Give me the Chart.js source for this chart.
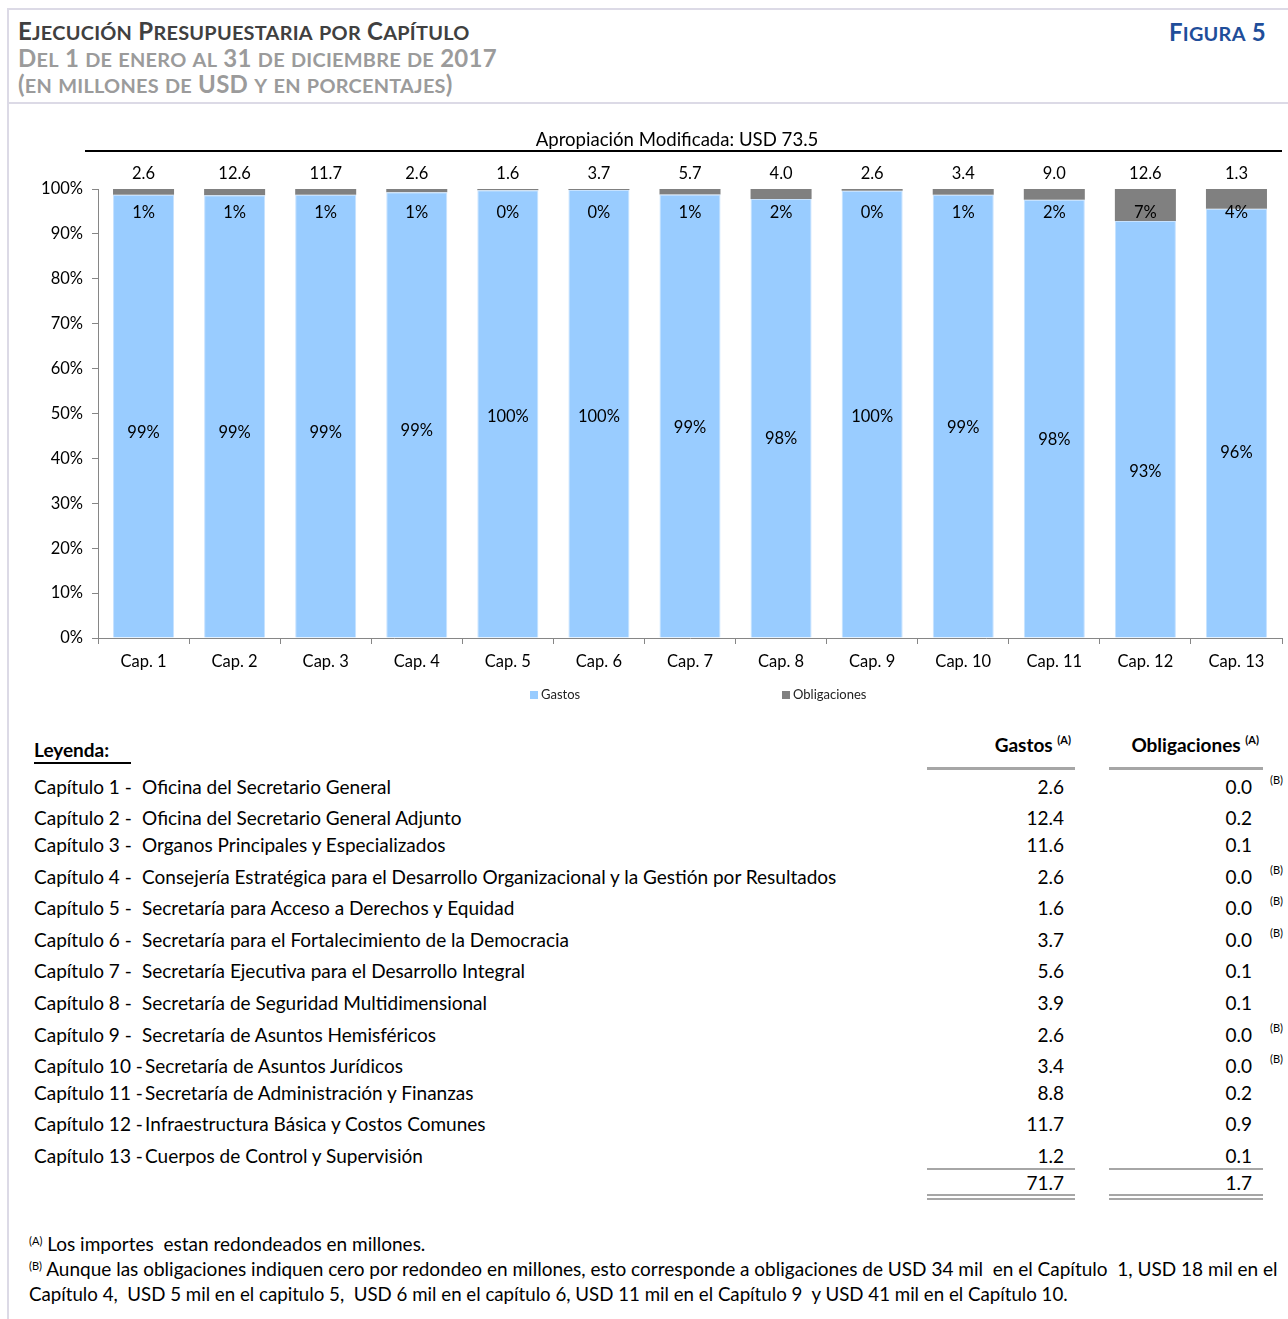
<!DOCTYPE html>
<html lang="es">
<head>
<meta charset="utf-8">
<title>Ejecución Presupuestaria por Capítulo</title>
<script src="https://cdn.jsdelivr.net/npm/chart.js@4.4.1/dist/chart.umd.min.js"></script>
<style>
  html, body { margin: 0; padding: 0; background: #fff; }
  body { width: 1288px; height: 1319px; position: relative; overflow: hidden; font-family: Lato, "Open Sans", sans-serif; color: #000; }
  .abs { position: absolute; white-space: nowrap; }
  .hline { position: absolute; }
  .hdr { font-weight: bold; line-height: 26px; letter-spacing: 0.25px; }
  .hdr .b { font-size: 24px; }
  .hdr .s { font-size: 19.9px; }
  sup { font-size: 11px; vertical-align: 0; position: relative; top: -8px; }
  .row { position: absolute; height: 24px; line-height: 24px; font-size: 19px; white-space: nowrap; }
  #chartCanvas { position: absolute; left: 0; top: 120px; }
  .leg { position: absolute; font-size: 13px; line-height: 14px; color: #222; }
  .leg i { display: inline-block; width: 8px; height: 8px; margin-right: 3px; vertical-align: 0px; }
  .foot { font-size: 19px; line-height: 24px; }
</style>
</head>
<body>
<!-- frame -->
<div class="hline" style="left:8px; top:8px; width:1280px; height:2px; background:#dcdae6;"></div>
<div class="hline" style="left:8px; top:102px; width:1280px; height:2px; background:#dcdae6;"></div>
<div class="hline" style="left:7px; top:8px; width:2px; height:1311px; background:#dcdae6;"></div>

<div id="h1" class="abs hdr" style="left:18px; top:18px; color:#404040;"></div>
<div id="h2" class="abs hdr" style="left:18px; top:45px; color:#9b9b9b;"></div>
<div id="h3" class="abs hdr" style="left:18px; top:71px; color:#9b9b9b;"></div>
<div id="h4" class="abs hdr" style="right:22px; top:19px; color:#1f4e9a;"></div>

<canvas id="chartCanvas" width="1288" height="590"></canvas>

<div class="leg" style="left:530px; top:687px;"><i id="legG"></i>Gastos</div>
<div class="leg" style="left:782px; top:687px;"><i id="legO"></i>Obligaciones</div>

<div id="table"></div>

<script>
// ---------------- DATA ----------------
const categories = ["Cap. 1","Cap. 2","Cap. 3","Cap. 4","Cap. 5","Cap. 6","Cap. 7","Cap. 8","Cap. 9","Cap. 10","Cap. 11","Cap. 12","Cap. 13"];
const apropiacion = [2.6, 12.6, 11.7, 2.6, 1.6, 3.7, 5.7, 4.0, 2.6, 3.4, 9.0, 12.6, 1.3];
const gastosPct = [98.7, 98.6, 98.7, 99.3, 99.7, 99.8, 98.8, 97.8, 99.6, 98.7, 97.6, 92.9, 95.6];
const obligPct  = [1.3, 1.4, 1.3, 0.7, 0.3, 0.2, 1.2, 2.2, 0.4, 1.3, 2.4, 7.1, 4.4];
const apropTotal = "73.5";

const chapterLabels = ["Capítulo 1 -","Capítulo 2 -","Capítulo 3 -","Capítulo 4 -","Capítulo 5 -","Capítulo 6 -","Capítulo 7 -","Capítulo 8 -","Capítulo 9 -","Capítulo 10 -","Capítulo 11 -","Capítulo 12 -","Capítulo 13 -"];
const chapterNames = [
  "Oficina del Secretario General",
  "Oficina del Secretario General Adjunto",
  "Organos Principales y Especializados",
  "Consejería Estratégica para el Desarrollo Organizacional y la Gestión por Resultados",
  "Secretaría para Acceso a Derechos y Equidad",
  "Secretaría para el Fortalecimiento de la Democracia",
  "Secretaría Ejecutiva para el Desarrollo Integral",
  "Secretaría de Seguridad Multidimensional",
  "Secretaría de Asuntos Hemisféricos",
  "Secretaría de Asuntos Jurídicos",
  "Secretaría de Administración y Finanzas",
  "Infraestructura Básica y Costos Comunes",
  "Cuerpos de Control y Supervisión"
];
const gastosMill = ["2.6","12.4","11.6","2.6","1.6","3.7","5.6","3.9","2.6","3.4","8.8","11.7","1.2"];
const obligMill  = ["0.0","0.2","0.1","0.0","0.0","0.0","0.1","0.1","0.0","0.0","0.2","0.9","0.1"];
const noteB      = [true,false,false,true,true,true,false,false,true,true,false,false,false];
const totalGastos = "71.7";
const totalOblig  = "1.7";

// ---------------- STYLE ----------------
const COL_G = "#99ccff";
const COL_O = "#808080";
const FONT = "Lato, 'Open Sans', sans-serif";
document.getElementById("legG").style.background = COL_G;
document.getElementById("legO").style.background = COL_O;

// small caps helper: lowercase letters rendered as smaller capitals
function smallCaps(text) {
  let out = "";
  for (const ch of text) {
    if (ch !== ch.toUpperCase()) out += '<span class="s">' + ch.toUpperCase() + '</span>';
    else out += '<span class="b">' + (ch === " " ? "&nbsp;" : ch) + '</span>';
  }
  return out;
}
document.getElementById("h1").innerHTML = smallCaps("Ejecución Presupuestaria por Capítulo");
document.getElementById("h2").innerHTML = smallCaps("Del 1 de enero al 31 de diciembre de 2017");
document.getElementById("h3").innerHTML = smallCaps("(en millones de USD y en porcentajes)");
document.getElementById("h4").innerHTML = smallCaps("Figura 5");

// label vertical positions (in % units of the axis) for the Gastos labels, as placed in the original
const gastosLabelAt = [45.7, 45.7, 45.7, 46.1, 49.3, 49.3, 46.8, 44.4, 49.3, 46.8, 44.2, 37.1, 41.3];

const labelPlugin = {
  id: "labels",
  afterDatasetsDraw(chart) {
    const ctx = chart.ctx;
    const x = chart.scales.x, y = chart.scales.y;
    const area = chart.chartArea;
    ctx.save();
    ctx.fillStyle = "#000";
    ctx.font = "18.6px " + FONT;
    ctx.textAlign = "center";
    ctx.textBaseline = "middle";
    ctx.fillText("Apropiación Modificada: USD " + apropTotal, 677, 19.5);
    ctx.fillRect(85, 30, 1197, 2);
    ctx.font = "16.5px " + FONT;
    categories.forEach((c, i) => {
      const cx = x.getPixelForValue(i);
      ctx.fillText(apropiacion[i].toFixed(1), cx, area.top - 15.5);
      ctx.fillText(Math.round(obligPct[i]) + "%", cx, y.getPixelForValue(94.7));
      ctx.fillText(Math.round(gastosPct[i]) + "%", cx, y.getPixelForValue(gastosLabelAt[i]));
    });
    ctx.restore();
  }
};

new Chart(document.getElementById("chartCanvas"), {
  type: "bar",
  data: {
    labels: categories,
    datasets: [
      { label: "Gastos", data: gastosPct, backgroundColor: COL_G, borderColor: "#c6e2ff", borderWidth: 1, categoryPercentage: 1, barPercentage: 0.67 },
      { label: "Obligaciones", data: obligPct, backgroundColor: COL_O, borderWidth: 0, categoryPercentage: 1, barPercentage: 0.67 }
    ]
  },
  options: {
    responsive: false,
    animation: false,
    devicePixelRatio: 1,
    layout: { padding: { left: 0, right: 6, top: 69, bottom: 0 } },
    plugins: { legend: { display: false }, tooltip: { enabled: false }, title: { display: false } },
    scales: {
      x: {
        stacked: true,
        afterFit(s) { s.height = 72; },
        grid: { display: true, drawOnChartArea: false, tickLength: 6, color: "#868686", offset: true },
        border: { display: true, color: "#868686", width: 1 },
        ticks: { color: "#000", font: { family: FONT, size: 16.5 }, padding: 8, maxRotation: 0, autoSkip: false }
      },
      y: {
        stacked: true, min: 0, max: 100,
        afterFit(s) { s.width = 98; },
        grid: { display: true, drawOnChartArea: false, tickLength: 6, color: "#868686" },
        border: { display: true, color: "#868686", width: 1 },
        ticks: { stepSize: 10, color: "#000", font: { family: FONT, size: 16.5 }, padding: 9, callback: v => v + "%" }
      }
    }
  },
  plugins: [labelPlugin]
});

// ---------------- TABLE ----------------
const T = document.getElementById("table");
function add(html, style, cls) {
  const d = document.createElement("div");
  d.className = cls || "abs";
  d.setAttribute("style", style);
  d.innerHTML = html;
  T.appendChild(d);
  return d;
}
function bar(l, t, w, h, c) { add("", `left:${l}px;top:${t}px;width:${w}px;height:${h}px;background:${c};`, "hline"); }

// row centre lines of the legend table (layout)
const rowY = [787, 818, 845, 877, 908, 940, 971, 1003, 1035, 1066, 1093, 1124, 1156];

add("Leyenda:", "left:34px; top:738px; font-size:19px; font-weight:bold; line-height:24px;");
bar(34, 762, 97, 2, "#000");
add('Gastos <sup style="font-weight:bold;top:-8px">(A)</sup>', "right:217px; top:733px; font-size:19px; font-weight:bold; line-height:24px;");
add('Obligaciones <sup style="font-weight:bold;top:-8px">(A)</sup>', "right:29px; top:733px; font-size:19px; font-weight:bold; line-height:24px;");
bar(927, 767, 148, 3, "#a6a6a6");
bar(1109, 767, 154, 3, "#a6a6a6");

chapterNames.forEach((n, i) => {
  const top = rowY[i] - 12;
  add(chapterLabels[i], `left:34px; top:${top}px;`, "row");
  add(n, `left:${i >= 9 ? 145 : 142}px; top:${top}px;`, "row");
  add(gastosMill[i], `right:224px; top:${top}px;`, "row");
  add(obligMill[i], `right:36px; top:${top}px;`, "row");
  if (noteB[i]) add("(B)", `left:1270px; top:${rowY[i] - 14}px; font-size:11px; line-height:14px;`);
});
bar(927, 1168, 148, 2, "#a6a6a6");
bar(1109, 1168, 154, 2, "#a6a6a6");
add(totalGastos, "right:224px; top:1171px;", "row");
add(totalOblig, "right:36px; top:1171px;", "row");
bar(927, 1194, 148, 2, "#a6a6a6");
bar(927, 1198, 148, 2, "#a6a6a6");
bar(1109, 1194, 154, 2, "#a6a6a6");
bar(1109, 1198, 154, 2, "#a6a6a6");

add('<sup style="top:-6px">(A)</sup> Los importes&nbsp; estan redondeados en millones.', "left:29px; top:1232px;", "abs foot");
add('<sup style="top:-6px">(B)</sup> Aunque las obligaciones indiquen cero por redondeo en millones, esto corresponde a obligaciones de USD 34 mil&nbsp; en el Capítulo&nbsp; 1, USD 18 mil en el',
    "left:29px; top:1257px;", "abs foot");
add('Capítulo 4,&nbsp; USD 5 mil en el capitulo 5,&nbsp; USD 6 mil en el capítulo 6, USD 11 mil en el Capítulo 9&nbsp; y USD 41 mil en el Capítulo 10.',
    "left:29px; top:1282px; font-size:18.7px;", "abs foot");
</script>
</body>
</html>
